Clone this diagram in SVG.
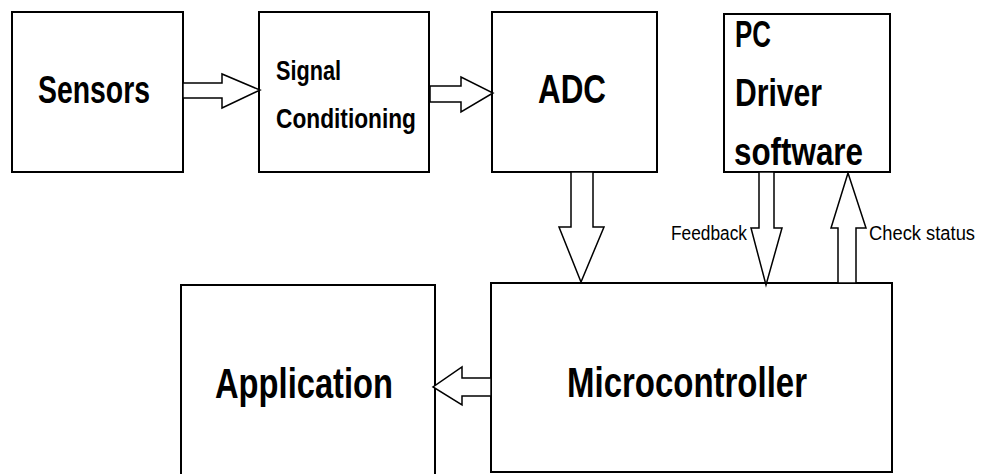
<svg xmlns="http://www.w3.org/2000/svg" width="986" height="474" viewBox="0 0 986 474">
<style>
.box{fill:#fff;stroke:#000;stroke-width:2}
.arr{fill:#fff;stroke:#000;stroke-width:1.5;stroke-linejoin:miter}
.big{font-family:"Liberation Sans",Arial,sans-serif;font-weight:bold;fill:#000}
.small{font-family:"Liberation Sans",Arial,sans-serif;fill:#000;font-size:20px}
</style>
<rect width="986" height="474" fill="#fff"/>
<g id="sensors">
<rect class="box" x="12" y="12" width="171" height="160"/>
<text class="big" x="38" y="103" font-size="38" textLength="112" lengthAdjust="spacingAndGlyphs">Sensors</text>
</g>
<g id="signal-conditioning">
<rect class="box" x="259" y="12" width="170" height="160"/>
<text class="big" x="276" y="80" font-size="27" textLength="65" lengthAdjust="spacingAndGlyphs">Signal</text>
<text class="big" x="276" y="128" font-size="27" textLength="140" lengthAdjust="spacingAndGlyphs">Conditioning</text>
</g>
<g id="adc">
<rect class="box" x="492" y="12" width="165" height="160"/>
<text class="big" x="538" y="103" font-size="41" textLength="68" lengthAdjust="spacingAndGlyphs">ADC</text>
</g>
<g id="pc-driver">
<rect class="box" x="724" y="14" width="166" height="158"/>
<text class="big" x="735" y="47" font-size="37" textLength="36" lengthAdjust="spacingAndGlyphs">PC</text>
<text class="big" x="735" y="106" font-size="39" textLength="87" lengthAdjust="spacingAndGlyphs">Driver</text>
<text class="big" x="734" y="165" font-size="39" textLength="129" lengthAdjust="spacingAndGlyphs">software</text>
</g>
<g id="application">
<rect class="box" x="181" y="285" width="254" height="200"/>
<text class="big" x="215" y="398" font-size="42" textLength="178" lengthAdjust="spacingAndGlyphs">Application</text>
</g>
<g id="microcontroller">
<rect class="box" x="491" y="283" width="401" height="189"/>
<text class="big" x="567" y="397" font-size="42" textLength="240" lengthAdjust="spacingAndGlyphs">Microcontroller</text>
</g>
<g id="connectors">
<polygon class="arr" points="183,83 222,83 222,74 260,90 222,108 222,98 183,98"/>
<polygon class="arr" points="430,86 461,86 461,77 493,93 461,112 461,102 430,102"/>
<polygon class="arr" points="571,172 593,172 593,227 604,227 581,282 559,227 571,227"/>
<polygon class="arr" points="759,172 774,172 774,228 782,228 766,285 751,228 759,228"/>
<polygon class="arr" points="838,283 856,283 856,228 866,228 848,173 831,228 838,228"/>
<polygon class="arr" points="491,378 462,378 462,367 433,387 462,405 462,396 491,396"/>
<text class="small" x="671" y="240" textLength="76" lengthAdjust="spacingAndGlyphs">Feedback</text>
<text class="small" x="869" y="240" textLength="106" lengthAdjust="spacingAndGlyphs">Check status</text>
</g>
</svg>
